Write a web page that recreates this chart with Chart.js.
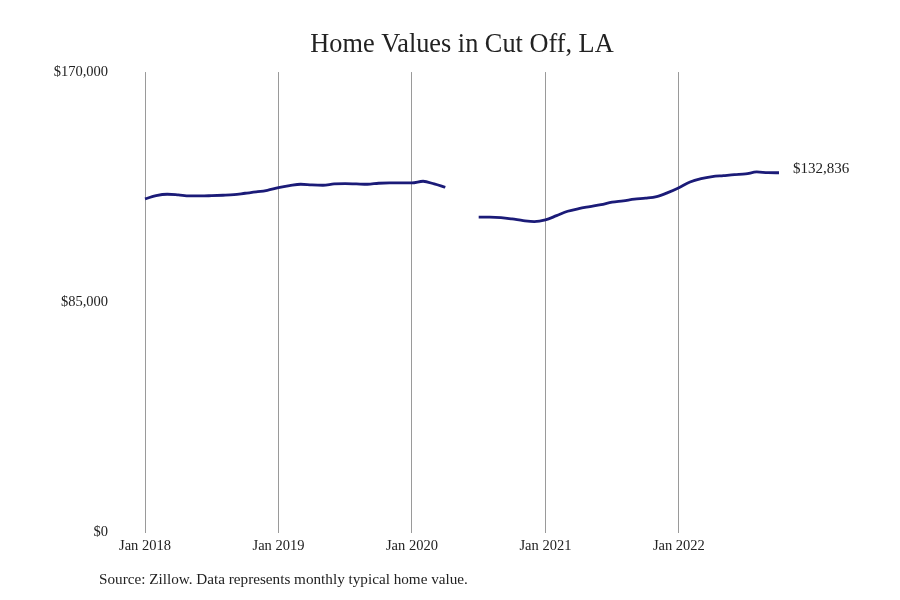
<!DOCTYPE html>
<html>
<head>
<meta charset="utf-8">
<title>Home Values in Cut Off, LA</title>
<script src="https://cdn.jsdelivr.net/npm/chart.js@4/dist/chart.umd.min.js"></script>
<style>
  html, body { margin: 0; padding: 0; background: #fff; }
  #wrap { width: 900px; height: 600px; }
</style>
</head>
<body>
<div id="wrap"><canvas id="homeChart"></canvas></div>
<script>
// monthly typical home value, Jan 2018 - Oct 2022 (null = no data)
const months = [
    'Jan 2018', 'Feb 2018', 'Mar 2018', 'Apr 2018', 'May 2018', 'Jun 2018',
    'Jul 2018', 'Aug 2018', 'Sep 2018', 'Oct 2018', 'Nov 2018', 'Dec 2018',
    'Jan 2019', 'Feb 2019', 'Mar 2019', 'Apr 2019', 'May 2019', 'Jun 2019',
    'Jul 2019', 'Aug 2019', 'Sep 2019', 'Oct 2019', 'Nov 2019', 'Dec 2019',
    'Jan 2020', 'Feb 2020', 'Mar 2020', 'Apr 2020', 'May 2020', 'Jun 2020',
    'Jul 2020', 'Aug 2020', 'Sep 2020', 'Oct 2020', 'Nov 2020', 'Dec 2020',
    'Jan 2021', 'Feb 2021', 'Mar 2021', 'Apr 2021', 'May 2021', 'Jun 2021',
    'Jul 2021', 'Aug 2021', 'Sep 2021', 'Oct 2021', 'Nov 2021', 'Dec 2021',
    'Jan 2022', 'Feb 2022', 'Mar 2022', 'Apr 2022', 'May 2022', 'Jun 2022',
    'Jul 2022', 'Aug 2022', 'Sep 2022', 'Oct 2022'
];

const homeValues = [
    123170, 124380, 124900, 124640, 124270, 124270,
    124380, 124530, 124750, 125260, 125750, 126370,
    127340, 128070, 128590, 128330, 128220, 128700,
    128810, 128700, 128590, 128950, 129070, 129070,
    129070, 129690, 128700, 127480, null, null,
    116420, 116420, 116270, 115790, 115170, 114800,
    115420, 117000, 118630, 119590, 120330, 121060,
    121950, 122430, 123060, 123430, 124010, 125490,
    127330, 129440, 130650, 131390, 131760, 132130,
    132390, 133120, 132870, 132836
];

const xTickLabels = ['Jan 2018', 'Jan 2019', 'Jan 2020', 'Jan 2021', 'Jan 2022'];
const yTicks = [0, 85000, 170000];
const sourceNote = 'Source: Zillow. Data represents monthly typical home value.';

const SERIF = "'Liberation Serif', 'DejaVu Serif', serif";
const LINE_COLOR = '#1b1b78';
const TEXT_COLOR = '#222';

function fmtMoney(v) {
    return '$' + Number(v).toLocaleString('en-US');
}

// writes the latest value next to the end of the line
const lastValueLabel = {
    id: 'lastValueLabel',
    afterDatasetsDraw(chart) {
        const meta = chart.getDatasetMeta(0);
        const idx = homeValues.length - 1;
        const pt = meta.data[idx];
        if (!pt) return;
        const ctx = chart.ctx;
        ctx.save();
        ctx.font = '15px ' + SERIF;
        ctx.fillStyle = TEXT_COLOR;
        ctx.textAlign = 'left';
        ctx.textBaseline = 'middle';
        ctx.fillText(fmtMoney(homeValues[idx]), pt.x + 14, pt.y - 4);
        ctx.restore();
    }
};

// source line under the chart, lined up a bit left of the plot
const sourceText = {
    id: 'sourceText',
    afterDraw(chart) {
        const ctx = chart.ctx;
        ctx.save();
        ctx.font = '15.2px ' + SERIF;
        ctx.fillStyle = TEXT_COLOR;
        ctx.textAlign = 'left';
        ctx.textBaseline = 'middle';
        ctx.fillText(sourceNote, chart.chartArea.left - 46, chart.height - 20);
        ctx.restore();
    }
};

new Chart(document.getElementById('homeChart'), {
    type: 'line',
    data: {
        labels: months,
        datasets: [{
            label: 'Home value',
            data: homeValues,
            borderColor: LINE_COLOR,
            borderWidth: 2.8,
            pointRadius: 0,
            tension: 0.4,
            cubicInterpolationMode: 'monotone',
            spanGaps: false,
            fill: false
        }]
    },
    options: {
        responsive: true,
        maintainAspectRatio: false,
        animation: false,
        layout: {
            padding: { left: 40, right: 121, top: 0, bottom: 40 }
        },
        plugins: {
            legend: { display: false },
            tooltip: { enabled: false },
            title: {
                display: true,
                text: 'Home Values in Cut Off, LA',
                fullSize: false,
                color: TEXT_COLOR,
                font: { family: SERIF, size: 26.3, weight: 'normal' },
                padding: { top: 29, bottom: 11.5 }
            }
        },
        scales: {
            x: {
                grid: {
                    display: true,
                    drawTicks: false,
                    color: ctx => xTickLabels.includes(months[ctx.index]) ? '#9a9a9a' : 'rgba(0,0,0,0)',
                    lineWidth: 1
                },
                border: { display: false },
                ticks: {
                    autoSkip: false,
                    maxRotation: 0,
                    padding: 5,
                    color: TEXT_COLOR,
                    font: { family: SERIF, size: 14.5 },
                    callback(value, index) {
                        const lbl = months[index];
                        return xTickLabels.includes(lbl) ? lbl : '';
                    }
                }
            },
            y: {
                min: 0,
                max: 170000,
                grid: { display: false, drawTicks: false },
                border: { display: false },
                afterFit(scale) { scale.width = 105; },
                afterBuildTicks(scale) {
                    scale.ticks = yTicks.map(v => ({ value: v }));
                },
                ticks: {
                    padding: 37,
                    color: TEXT_COLOR,
                    font: { family: SERIF, size: 14.5 },
                    callback: v => fmtMoney(v)
                }
            }
        }
    },
    plugins: [lastValueLabel, sourceText]
});
</script>
</body>
</html>
